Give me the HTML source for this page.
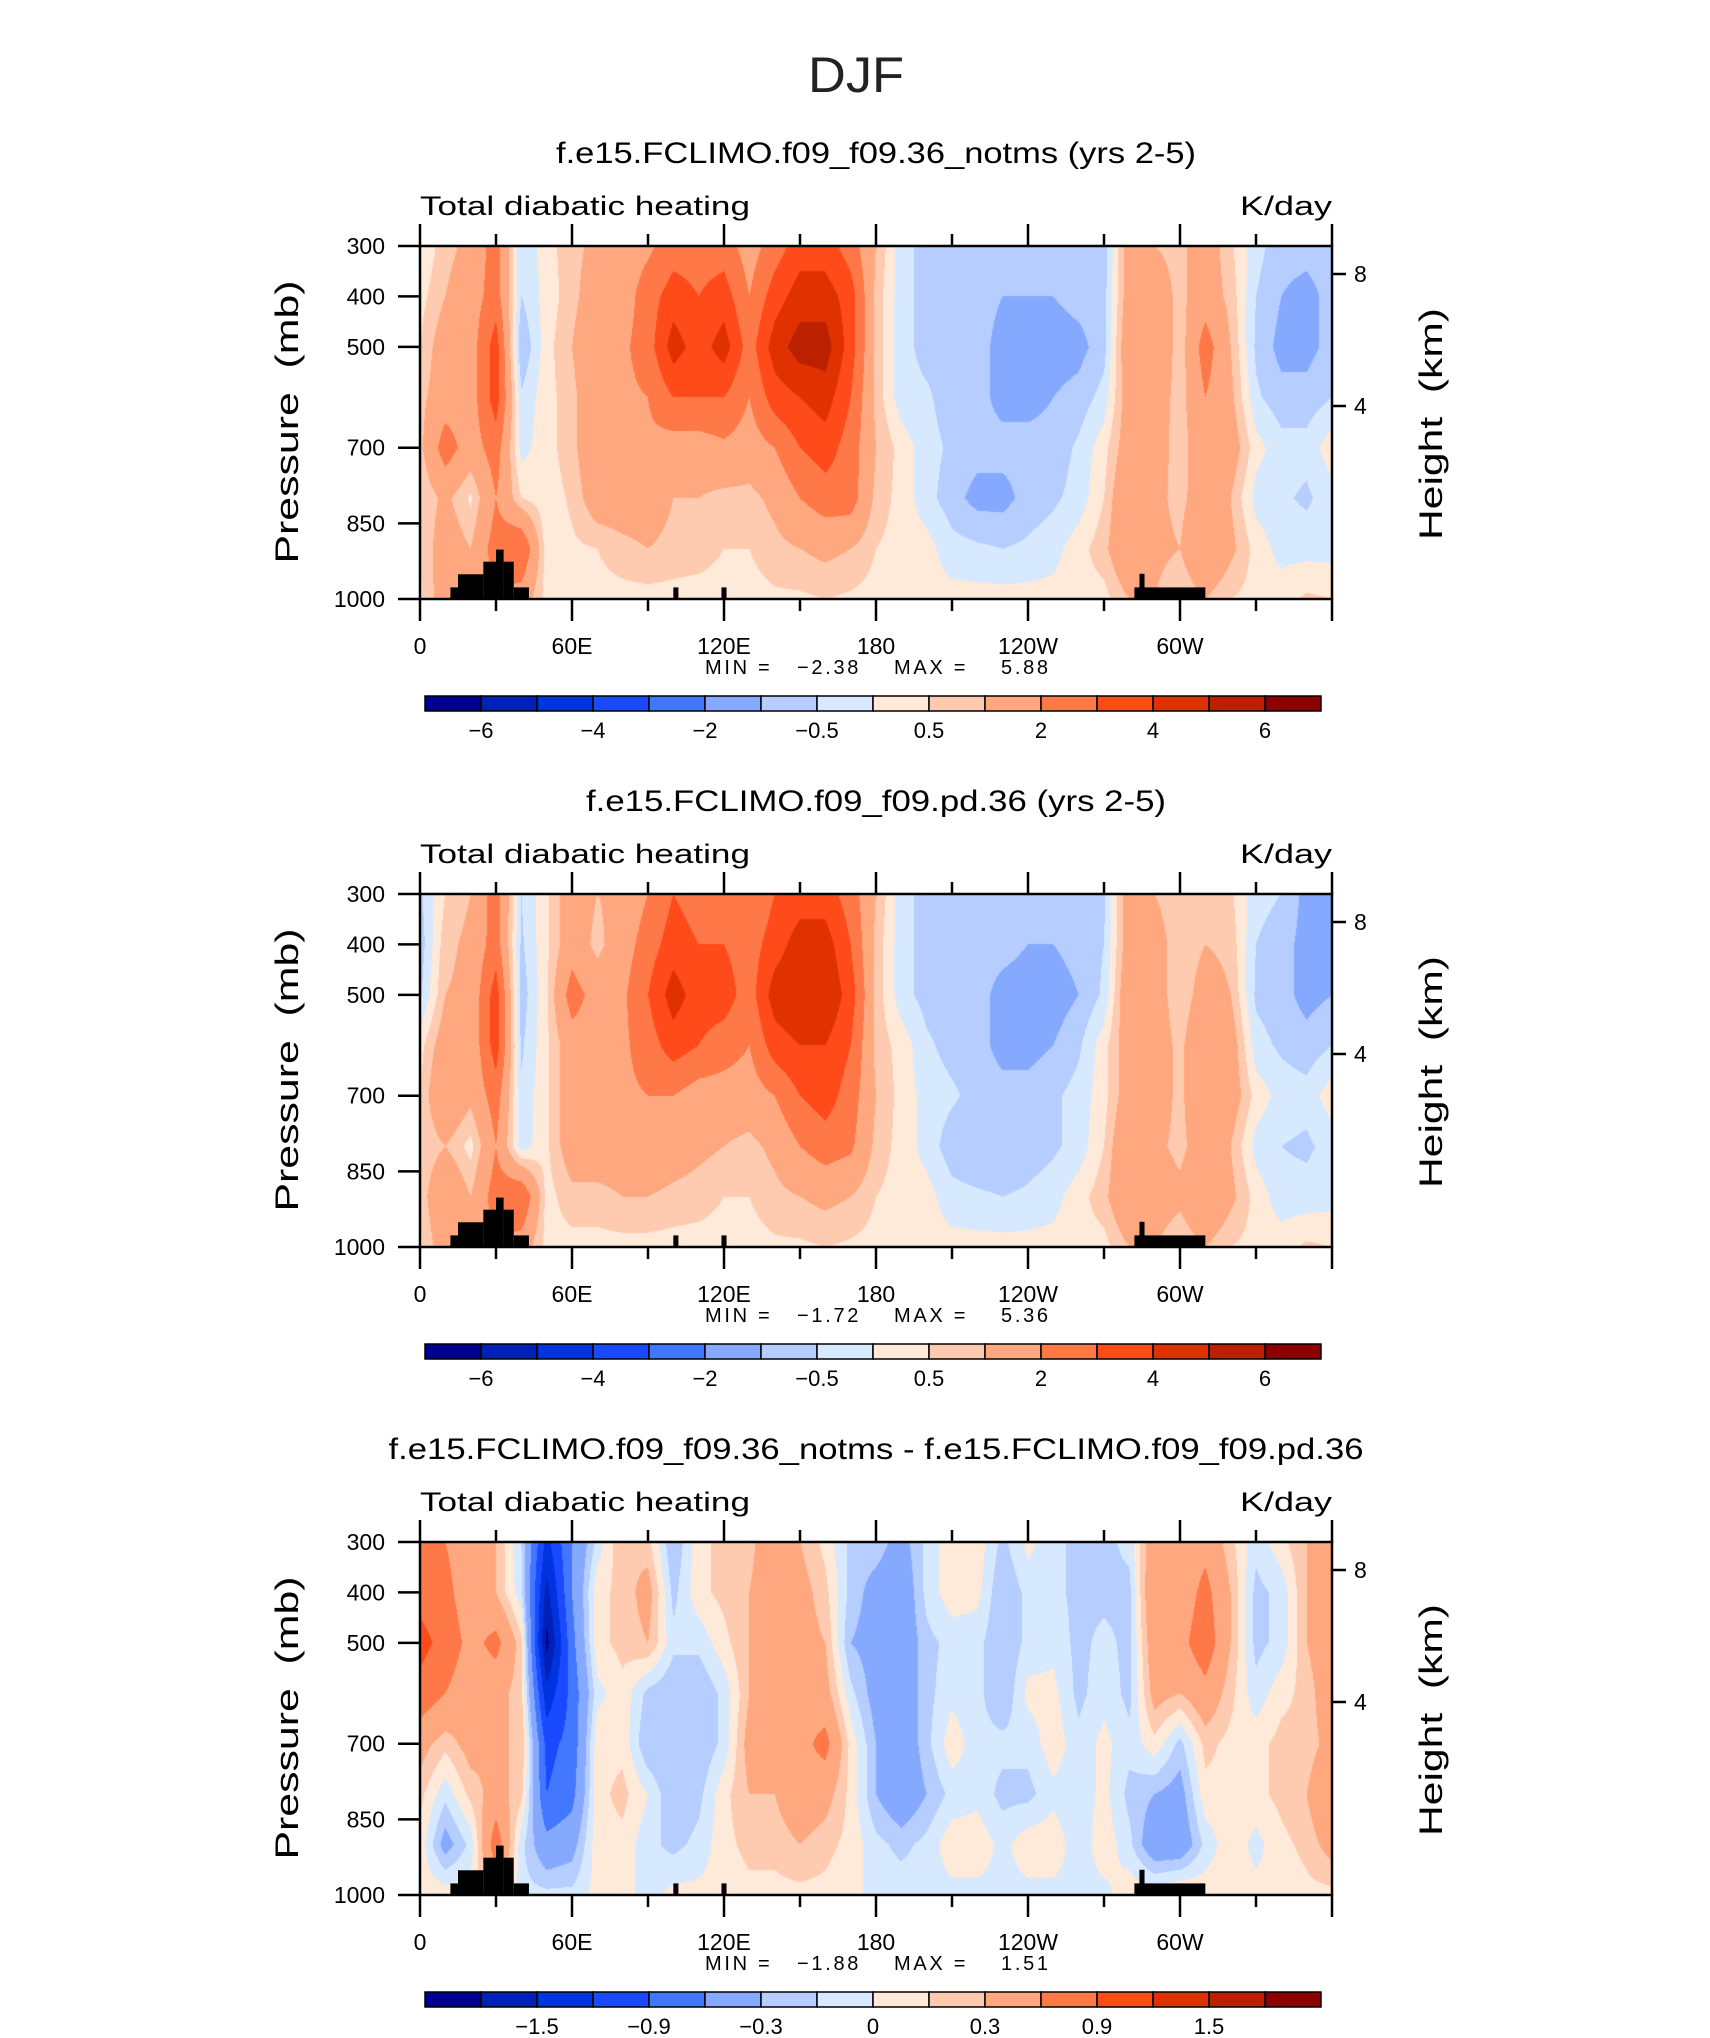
<!DOCTYPE html>
<html><head><meta charset="utf-8">
<style>
html,body{margin:0;padding:0;background:#fff;}
#root{position:relative;width:1710px;height:2038px;overflow:hidden;background:#fff;font-family:"Liberation Sans",sans-serif;}
canvas{position:absolute;}
svg{position:absolute;left:0;top:0;}
svg text{white-space:pre;}
</style></head>
<body>
<div id="root">
<canvas id="c1" width="912" height="353" style="left:420px;top:246px"></canvas>
<canvas id="c2" width="912" height="353" style="left:420px;top:894px"></canvas>
<canvas id="c3" width="912" height="353" style="left:420px;top:1542px"></canvas>
<svg id="ov" width="1710" height="2038"></svg>
</div>
<script>
// ---- data ----
const pressures = [300,400,500,600,700,800,900,1000];
const lonStep = 10;
const xTickLabels = ["0","60E","120E","180","120W","60W"];
const yTickValues = [300,400,500,700,850,1000];
const heightTicks = [8,4];
const colors = ["#000090","#0020b8","#0033e0","#1a4aff","#4477ff","#85a9ff","#b5cdff","#d6e9ff","#ffe9d8","#ffcbb0","#ffa880","#ff7848","#ff4a1a","#e03200","#bb2000","#8b0000"];
const levelsAbs = [-6,-5,-4,-3,-2,-1,-0.5,0,0.5,1,2,3,4,5,6];
const levelsDiff = [-1.8,-1.5,-1.2,-0.9,-0.6,-0.3,-0.15,0,0.15,0.3,0.6,0.9,1.2,1.5,1.8];
const labelsAbs = ["-6","","-4","","-2","","-0.5","","0.5","","2","","4","","6"];
const labelsDiff = ["","-1.5","","-0.9","","-0.3","","0","","0.3","","0.9","","1.5",""];
const topo = [[12,15,977],[15,25,951],[25,30,926],[30,33,902],[33,37,926],[37,43,977],[100,102,977],[119,121,977],[282,310,977],[284,286,950]];
const p1Values = [
[0,0.3,0.5,0.8,0.8,0.5,0.5,0.4],
[0.8,1,1.5,1.5,2.5,1.2,1.5,1.5],
[1.2,1.5,1.5,1.5,1.5,0.4,1,1],
[2.5,2.5,3.5,3.5,2.5,2,2.5,2],
[-0.5,-0.5,-1,-0.4,-0.2,0.5,3,1.5],
[0.3,0.2,0.3,0.3,0.3,0.2,0.2,0.3],
[0.8,0.8,1,0.8,0.8,0.6,0.4,0.3],
[1.2,1.5,1.8,1.8,1.8,1.5,0.5,0.3],
[1.5,1.5,1.8,1.8,1.8,1.5,0.8,0.3],
[1.8,2.5,2.5,2,1.8,1.5,1,0.3],
[2.5,3.5,4.5,3,1.5,1,0.8,0.3],
[2.5,3,3.5,3,1.5,1,0.7,0.3],
[2.5,3.5,4.5,3,1.8,0.8,0.5,0.3],
[1.5,2,2.5,2,1.5,0.8,0.5,0.3],
[2.5,3.5,4.5,3.5,2,1.2,0.8,0.4],
[3.5,4.5,5.5,4,3,2,1,0.4],
[3.5,4.5,5.5,4.5,3.5,2.5,1.2,0.5],
[2.5,3.5,3.5,3,2.5,2.5,1,0.4],
[1,0.8,0.8,0.8,1,0.8,0.5,0.3],
[-0.3,-0.3,-0.3,-0.3,0.3,0.3,0.3,0.2],
[-0.7,-0.7,-0.7,-0.4,-0.3,-0.3,0.2,0.2],
[-0.8,-0.8,-0.8,-0.8,-0.6,-0.8,-0.3,0.2],
[-0.8,-0.8,-0.8,-0.8,-0.8,-1.2,-0.4,0.2],
[-0.8,-1,-1.2,-1.2,-0.8,-1.2,-0.5,0.2],
[-0.8,-1,-1.3,-1.2,-0.8,-0.8,-0.4,0.2],
[-0.8,-1,-1.3,-1,-0.8,-0.6,-0.2,0.2],
[-0.8,-0.8,-1.2,-0.8,-0.4,-0.3,0.3,0.3],
[-0.8,-0.7,-0.7,-0.3,0.3,0.5,0.8,0.3],
[1.5,1.5,1.8,1.5,1.5,2,2,1],
[1,1.5,2,1.5,1.5,1.2,1.2,1],
[0.8,0.8,0.6,0.7,0.6,0.8,1,0.5],
[1.5,1.5,2.5,2,1.8,1.5,2,1],
[0.6,0.8,1,1.2,1.5,1,1.2,0.5],
[-0.3,-0.5,-0.6,-0.4,0.2,-0.2,0.3,0.3],
[-0.8,-1,-1.2,-0.8,-0.3,-0.4,-0.2,0.3],
[-0.8,-1.2,-1.2,-0.8,-0.3,-0.6,-0.2,0.6],
[-0.7,-0.8,-0.8,-0.5,0.3,-0.2,-0.2,0.5]];
const p2Values = [
[-0.6,-0.8,-0.6,0.3,0.5,0.5,0.6,0.4],
[0.5,0.8,1,1.5,2,1,2,1.5],
[1,1.2,1.2,1.2,1.2,0.3,1,1],
[2.5,2.5,3.5,3.5,2.5,2,2.5,2],
[-0.5,-0.6,-0.8,-0.6,-0.4,-0.3,3,1.5],
[0.4,0.4,0.4,0.4,0.4,0.4,0.3,0.3],
[1.5,1.5,2.5,1.5,1.5,1.5,0.8,0.3],
[1,0.8,1.5,1.5,1.5,1.5,0.8,0.3],
[1.2,1.5,1.8,1.8,1.8,1.5,1,0.3],
[2,2.5,3,2.5,2,1.8,1,0.3],
[3,3.5,4.5,3.5,2,1.5,0.8,0.3],
[2.5,3,3.5,3,1.5,1.2,0.7,0.3],
[2.5,3,3.5,2.5,1.5,1,0.5,0.3],
[2,2.5,2.5,2,1.5,0.8,0.5,0.3],
[3,3.5,4.5,3.5,2,1.2,0.8,0.4],
[3.5,4.5,5,4,3,2,1,0.4],
[3.5,4.5,5,4,3.5,2.5,1.2,0.5],
[2.5,3,3.5,3,2.5,2.2,1,0.4],
[1,0.8,0.8,0.8,1,0.8,0.5,0.3],
[-0.3,-0.3,-0.3,0.3,0.3,0.3,0.3,0.2],
[-0.7,-0.7,-0.7,-0.4,-0.2,-0.2,0.2,0.2],
[-0.8,-0.8,-0.8,-0.7,-0.4,-0.8,-0.3,0.2],
[-0.8,-0.8,-0.8,-0.8,-0.7,-1,-0.4,0.2],
[-0.8,-0.8,-1.2,-1.2,-0.8,-1,-0.5,0.2],
[-0.8,-1,-1.3,-1.2,-0.8,-0.8,-0.4,0.2],
[-0.8,-1,-1.3,-1,-0.6,-0.6,-0.2,0.2],
[-0.8,-0.8,-1,-0.6,-0.3,-0.3,0.3,0.3],
[-0.6,-0.5,-0.4,0.3,0.3,0.5,0.8,0.3],
[1.5,1.5,1.8,1.5,1.5,2,2,1],
[1,1.5,1.5,1.5,1.5,1.2,1.5,1],
[0.5,0.5,0.5,0.8,0.8,0.8,1.2,0.5],
[0.8,1,1.5,2,2,1.5,2,1],
[0.6,0.8,1,1.5,1.5,1,1.2,0.5],
[-0.3,-0.5,-0.6,-0.3,0.3,-0.2,0.3,0.3],
[-0.5,-0.8,-0.8,-0.6,-0.2,-0.5,-0.3,0.3],
[-1.2,-1.2,-1.2,-0.8,-0.3,-0.6,-0.3,0.6],
[-1.2,-1.2,-1,-0.5,0.3,-0.3,-0.2,0.5]];
const p3Values = [
[0.6,0.8,1.0,0.8,0.4,0.2,0.1,0.1],
[0.6,0.7,0.8,0.6,0.2,-0.1,-0.4,0.1],
[0.4,0.4,0.5,0.4,0.4,0.2,-0.1,0.1],
[0.3,0.3,0.7,0.4,0.3,0.4,0.8,0.3],
[-0.15,-0.1,0.2,0.2,0.3,0.2,-0.1,-0.1],
[-1.3,-1.6,-1.9,-1.4,-1.0,-0.9,-0.5,-0.1],
[-0.6,-0.6,-0.7,-0.8,-0.8,-0.7,-0.4,-0.1],
[-0.1,0.1,0.1,-0.05,0.1,0.1,0.1,0.05],
[0.3,0.2,0.2,0.1,0.1,0.2,0.1,0.05],
[0.2,0.4,0.3,-0.2,-0.3,0.0,-0.1,-0.05],
[-0.3,-0.2,-0.1,-0.3,-0.3,-0.3,-0.2,0.05],
[0.1,0.1,-0.1,-0.3,-0.3,-0.2,-0.1,0.05],
[0.2,0.2,0.1,-0.1,-0.1,0.1,0.1,0.05],
[0.2,0.3,0.3,0.3,0.4,0.3,0.2,0.1],
[0.6,0.6,0.6,0.5,0.4,0.3,0.2,0.1],
[0.3,0.4,0.4,0.5,0.5,0.5,0.3,0.1],
[0.1,0.2,0.3,0.4,0.7,0.4,0.2,0.1],
[-0.2,-0.2,-0.3,-0.1,0.1,0.1,0.1,0.05],
[-0.2,-0.4,-0.4,-0.4,-0.3,-0.3,-0.1,-0.05],
[-0.4,-0.5,-0.5,-0.5,-0.5,-0.5,-0.2,-0.05],
[-0.1,-0.1,-0.2,-0.2,-0.2,-0.3,-0.1,-0.05],
[0.1,0.1,-0.1,-0.05,0.1,-0.1,0.1,-0.05],
[0.1,0.05,-0.1,-0.1,-0.1,-0.05,0.1,-0.05],
[-0.2,-0.3,-0.3,-0.3,-0.1,-0.2,-0.05,-0.05],
[0.05,-0.1,-0.1,0.05,-0.1,-0.2,0.1,-0.05],
[-0.1,-0.1,-0.05,0.05,0.1,-0.05,0.1,-0.05],
[-0.2,-0.2,-0.2,-0.2,-0.1,-0.1,-0.1,-0.05],
[-0.2,-0.2,-0.1,-0.05,0.05,0.05,0.1,-0.05],
[-0.1,-0.2,-0.2,-0.2,-0.1,-0.2,-0.1,0.1],
[0.5,0.6,0.5,0.4,0.1,-0.3,-0.5,0.1],
[0.4,0.4,0.5,0.3,-0.2,-0.4,-0.5,0.2],
[0.5,0.7,0.8,0.5,0.2,0.1,-0.1,0.1],
[0.2,0.3,0.3,0.2,0.1,0.1,0.1,0.1],
[-0.1,-0.2,-0.2,-0.1,0.1,0.1,-0.05,0.05],
[0.1,-0.1,-0.1,0.1,0.2,0.2,0.1,0.05],
[0.3,0.3,0.3,0.2,0.2,0.3,0.2,0.1],
[0.4,0.4,0.5,0.5,0.4,0.6,0.4,0.1]];
const panelTitles = ["f.e15.FCLIMO.f09_f09.36_notms (yrs 2-5)","f.e15.FCLIMO.f09_f09.pd.36 (yrs 2-5)","f.e15.FCLIMO.f09_f09.36_notms - f.e15.FCLIMO.f09_f09.pd.36"];
const minVals = ["\u22122.38","\u22121.72","\u22121.88"];
const maxVals = ["5.88","5.36","1.51"];

// ---- layout ----
const PL=420, PW=912, PH=353, tops=[246,894,1542];
const CBL=425, CBW=896, CBH=15;
const ov=document.getElementById('ov');
const NS='http://www.w3.org/2000/svg';
function xScale(lon){return PL+lon/360*PW;}
function yScale(p,top){return top+(p-300)/700*PH;}
function mk(tag,attrs,parent){const e=document.createElementNS(NS,tag);for(const k in attrs)e.setAttribute(k,attrs[k]);(parent||ov).appendChild(e);return e;}
function hexRgb(h){return [parseInt(h.slice(1,3),16),parseInt(h.slice(3,5),16),parseInt(h.slice(5,7),16)];}
const rgb=colors.map(hexRgb);
function hexCol(v,lv){let k=0;while(k<lv.length&&v>=lv[k])k++;return k;}

function drawField(canvasId,vals,lv){
  const cv=document.getElementById(canvasId),ctx=cv.getContext('2d');
  const img=ctx.createImageData(PW,PH);const nC=vals.length-1,nR=pressures.length-1;
  for(let py=0;py<PH;py++){
    const p=300+(py+0.5)/PH*700;
    let j=(p-pressures[0])/100;if(j>nR)j=nR;const j0=Math.min(Math.floor(j),nR-1),fj=j-j0;
    for(let px=0;px<PW;px++){
      const lon=(px+0.5)/PW*360;let i=lon/lonStep;const i0=Math.min(Math.floor(i),nC-1),fi=i-i0;
      const v=(1-fi)*((1-fj)*vals[i0][j0]+fj*vals[i0][j0+1])+fi*((1-fj)*vals[i0+1][j0]+fj*vals[i0+1][j0+1]);
      const c=rgb[hexCol(v,lv)];const o=(py*PW+px)*4;
      img.data[o]=c[0];img.data[o+1]=c[1];img.data[o+2]=c[2];img.data[o+3]=255;
    }
  }
  ctx.putImageData(img,0,0);
}
drawField('c1',p1Values,levelsAbs);
drawField('c2',p2Values,levelsAbs);
drawField('c3',p3Values,levelsDiff);

// main title
const djf=mk('text',{x:856,y:92,'text-anchor':'middle','font-size':50,'font-family':'Liberation Sans, sans-serif',fill:'#222',textLength:96,lengthAdjust:'spacingAndGlyphs'});
djf.textContent='DJF';



const titleWidths=[640,580,975];
for(let k=0;k<3;k++){
  const top=tops[k];
  const g=mk('g',{});
  
  
  const t=mk('text',{x:876,y:top-83,'text-anchor':'middle','font-size':30,'font-family':'Liberation Sans, sans-serif',fill:'#000',textLength:titleWidths[k],lengthAdjust:'spacingAndGlyphs'},g);
  t.textContent=panelTitles[k];
  
  
  const lt=mk('text',{x:PL,y:top-31,'font-size':27,'font-family':'Liberation Sans, sans-serif',fill:'#000',textLength:330,lengthAdjust:'spacingAndGlyphs'},g);
  lt.textContent='Total diabatic heating';
  
  
  const rt=mk('text',{x:PL+PW,y:top-31,'text-anchor':'end','font-size':27,'font-family':'Liberation Sans, sans-serif',fill:'#000',textLength:92,lengthAdjust:'spacingAndGlyphs'},g);
  rt.textContent='K/day';
  
  
  for(const tp of topo){
    const r=mk('rect',{x:xScale(tp[0]),y:yScale(tp[2],top),width:xScale(tp[1])-xScale(tp[0]),height:yScale(1000,top)-yScale(tp[2],top),fill:'#000'},g);
    
    
  }
  const fr=mk('rect',{x:PL,y:top,width:PW,height:PH,fill:'none',stroke:'#000','stroke-width':2.5},g);
  
  
  for(let lon=0;lon<=360;lon+=30){
    const major=lon%60===0,len=major?22:12,x=xScale(lon);
    mk('line',{x1:x,x2:x,y1:top,y2:top-len,stroke:'#000','stroke-width':2.5},g);
    mk('line',{x1:x,x2:x,y1:top+PH,y2:top+PH+len,stroke:'#000','stroke-width':2.5},g);
  }
  xTickLabels.forEach((s,i)=>{
    const tx=mk('text',{x:xScale(i*60),y:top+PH+55,'text-anchor':'middle','font-size':23,'font-family':'Liberation Sans, sans-serif',fill:'#000'},g);
    tx.textContent=s;
    
    
  });
  yTickValues.forEach(p=>{
    const y=yScale(p,top);
    mk('line',{x1:PL,x2:PL-22,y1:y,y2:y,stroke:'#000','stroke-width':2.5},g);
    const ty=mk('text',{x:385,y:y+8,'text-anchor':'end','font-size':23,'font-family':'Liberation Sans, sans-serif',fill:'#000'},g);
    ty.textContent=String(p);
    
    
  });
  const hy={8:28,4:160};
  heightTicks.forEach(h=>{
    const y=top+hy[h];
    mk('line',{x1:PL+PW,x2:PL+PW+14,y1:y,y2:y,stroke:'#000','stroke-width':2.5},g);
    const th=mk('text',{x:PL+PW+22,y:y+8,'font-size':23,'font-family':'Liberation Sans, sans-serif',fill:'#000'},g);
    th.textContent=String(h);
    
    
  });
  const ya=mk('text',{x:0,y:0,'text-anchor':'middle','font-size':32,'font-family':'Liberation Sans, sans-serif',fill:'#000',textLength:283,lengthAdjust:'spacingAndGlyphs',transform:'translate(298,'+(top+176)+') rotate(-90)'},g);
  ya.textContent='Pressure  (mb)';
  
  
  const ha=mk('text',{x:0,y:0,'text-anchor':'middle','font-size':32,'font-family':'Liberation Sans, sans-serif',fill:'#000',textLength:232,lengthAdjust:'spacingAndGlyphs',transform:'translate(1442,'+(top+178)+') rotate(-90)'},g);
  ha.textContent='Height  (km)';
  
  
  const mm=mk('text',{x:705,y:top+PH+75,'font-size':20,'font-family':'Liberation Sans, sans-serif',fill:'#000',textLength:343,lengthAdjust:'spacing'},g);
  mm.textContent='MIN =   '+minVals[k]+'    MAX =    '+maxVals[k];
  
  
  const cbTop=top+PH+97;
  const cb=mk('g',{},g);
  
  
  const sw=CBW/colors.length;
  colors.forEach((c,i)=>{
    const r=mk('rect',{x:CBL+i*sw,y:cbTop,width:sw,height:CBH,fill:c,stroke:'#000','stroke-width':1.5},cb);
    
    
  });
  const labs=k===2?labelsDiff:labelsAbs;
  labs.forEach((s,i)=>{
    if(!s)return;
    const tl=mk('text',{x:CBL+(i+1)*sw,y:cbTop+42,'text-anchor':'middle','font-size':22,'font-family':'Liberation Sans, sans-serif',fill:'#000'},cb);
    tl.textContent=s.replace('-','\u2212');
    
    
  });
}
</script>
</body></html>
